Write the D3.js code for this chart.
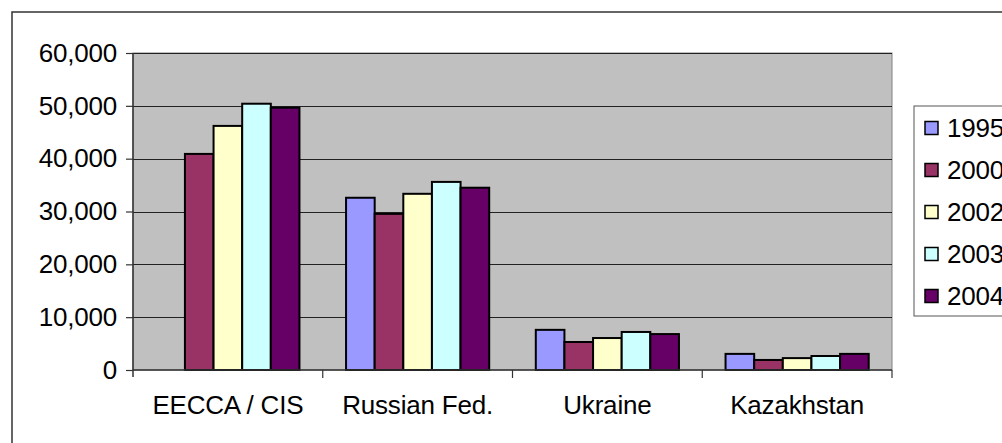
<!DOCTYPE html>
<html>
<head>
<meta charset="utf-8">
<script src="https://cdn.jsdelivr.net/npm/d3@7"></script>
<style>
  html, body { margin: 0; padding: 0; background: #fff; }
  svg { display: block; font-family: "Liberation Sans", Arial, sans-serif; }
</style>
</head>
<body>
<svg id="chart" width="1002" height="443"></svg>
<script>
const categories = ["EECCA / CIS", "Russian Fed.", "Ukraine", "Kazakhstan"];
const years = ["1995", "2000", "2002", "2003", "2004"];
const colors = ["#9999FF", "#993366", "#FFFFCC", "#CCFFFF", "#660066"];
const values1995 = [null, 32600, 7600, 3050];
const values2000 = [40900, 29550, 5300, 1900];
const values2002 = [46200, 33350, 6050, 2250];
const values2003 = [50400, 35600, 7200, 2650];
const values2004 = [49650, 34500, 6800, 3050];
const seriesValues = [values1995, values2000, values2002, values2003, values2004];
const yTicks = [0, 10000, 20000, 30000, 40000, 50000, 60000];

const svg = d3.select("#chart");
const W = 1002, H = 443;
const plot = { left: 133, right: 892, top: 53, bottom: 370 };
const FS = 26;

// cropped title fragment above chart
svg.append("text").attr("x", 86).attr("y", -4).attr("font-size", 20)
  .attr("font-weight", "bold").attr("fill", "#000").text("g");

// outer chart border (cropped at right/bottom)
svg.append("rect").attr("x", 12).attr("y", 12).attr("width", W + 20).attr("height", H + 20)
  .attr("fill", "#fff").attr("stroke", "#333").attr("stroke-width", 1.5);

const x0 = d3.scaleBand().domain(categories).range([plot.left, plot.right]).paddingInner(0).paddingOuter(0);
const groupPad = 23.3;
const x1 = d3.scaleBand().domain(years).range([groupPad, x0.bandwidth() - groupPad]).paddingInner(0);
const y = d3.scaleLinear().domain([0, 60000]).range([plot.bottom, plot.top]);

// plot area background
svg.append("rect").attr("x", plot.left).attr("y", plot.top)
  .attr("width", plot.right - plot.left).attr("height", plot.bottom - plot.top)
  .attr("fill", "#C0C0C0").attr("stroke", "#808080").attr("stroke-width", 1);

// gridlines
svg.append("g").selectAll("line").data(yTicks.filter(d => d > 0)).join("line")
  .attr("x1", plot.left).attr("x2", plot.right)
  .attr("y1", d => Math.round(y(d)) + 0.5).attr("y2", d => Math.round(y(d)) + 0.5)
  .attr("stroke", "#222").attr("stroke-width", 1);

// y axis
const yAxis = d3.axisLeft(y).tickValues(yTicks).tickSize(7).tickPadding(9)
  .tickFormat(d3.format(","));
const gy = svg.append("g").attr("transform", `translate(${plot.left},0)`).call(yAxis);
gy.select(".domain").attr("stroke", "#333").attr("stroke-width", 1.5).attr("d", `M0,${plot.top}V${plot.bottom + 7}`);
gy.selectAll(".tick line").attr("stroke", "#333").attr("stroke-width", 1.2);
gy.selectAll(".tick text").attr("font-size", FS).attr("fill", "#000")
  .attr("font-family", "Liberation Sans, Arial, sans-serif").attr("letter-spacing", -0.2);

// bars
const groups = svg.append("g").selectAll("g").data(categories).join("g")
  .attr("transform", d => `translate(${x0(d)},0)`);
groups.selectAll("rect")
  .data((c, ci) => years.map((yr, si) => ({ yr, si, v: seriesValues[si][ci] })).filter(d => d.v != null))
  .join("rect")
  .attr("x", d => x1(d.yr))
  .attr("y", d => y(d.v))
  .attr("width", x1.bandwidth())
  .attr("height", d => y(0) - y(d.v))
  .attr("fill", d => colors[d.si])
  .attr("stroke", "#000").attr("stroke-width", 2);

// x axis
const xAxis = d3.axisBottom(x0).tickSize(0).tickPadding(0);
const gx = svg.append("g").attr("transform", `translate(0,${plot.bottom})`).call(xAxis);
gx.select(".domain").attr("stroke", "#333").attr("stroke-width", 1.5)
  .attr("d", `M${plot.left},0H${plot.right}`);
gx.selectAll(".tick text").attr("font-size", FS).attr("fill", "#000").attr("dy", 0).attr("y", 44)
  .attr("font-family", "Liberation Sans, Arial, sans-serif").attr("letter-spacing", -0.2);
// category separator ticks
gx.append("g").selectAll("line").data(categories.slice(1).map(c => x0(c)).concat([plot.right])).join("line")
  .attr("x1", d => d).attr("x2", d => d).attr("y1", 0).attr("y2", 8)
  .attr("stroke", "#333").attr("stroke-width", 1.2);

// legend
const legend = svg.append("g");
legend.append("rect").attr("x", 914).attr("y", 106).attr("width", 120).attr("height", 210)
  .attr("fill", "#fff").attr("stroke", "#555").attr("stroke-width", 1);
const ly = d3.scalePoint().domain(years).range([128, 296]);
const li = legend.selectAll("g.item").data(years).join("g").attr("class", "item")
  .attr("transform", d => `translate(0,${ly(d)})`);
li.append("rect").attr("x", 925).attr("y", -6.5).attr("width", 13).attr("height", 13)
  .attr("fill", (d, i) => colors[i]).attr("stroke", "#000").attr("stroke-width", 1.5);
li.append("text").attr("x", 947).attr("y", 0).attr("dy", "0.35em").attr("font-size", FS)
  .attr("letter-spacing", -0.2).attr("fill", "#000").text(d => d);
</script>
</body>
</html>
